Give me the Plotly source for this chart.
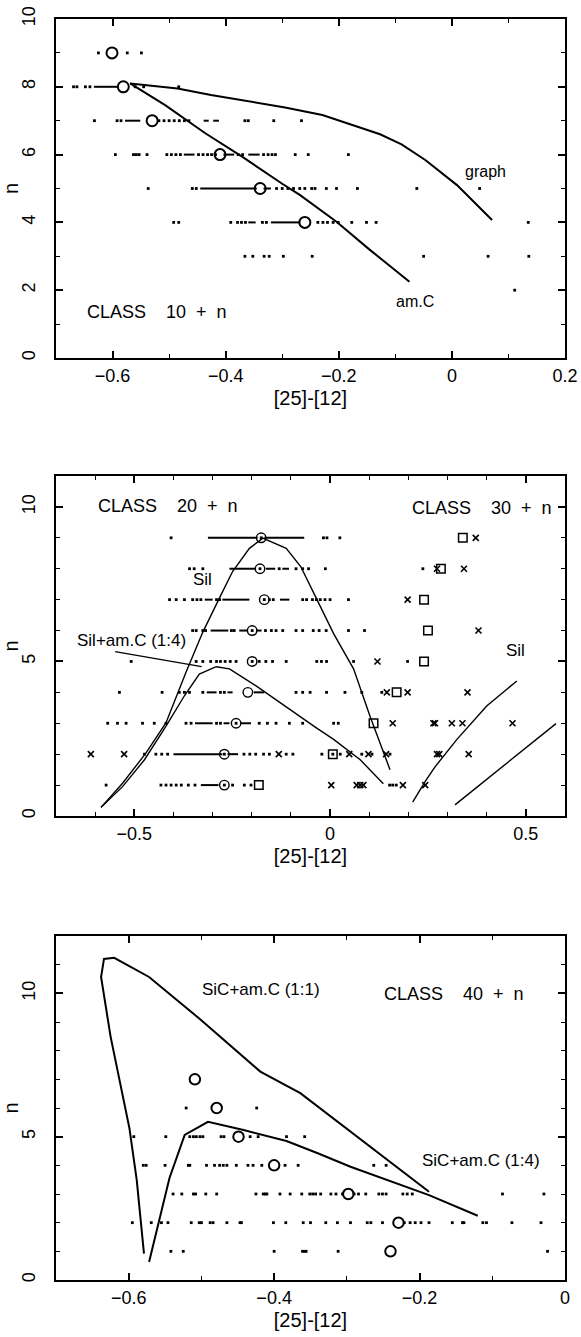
import plotly.graph_objects as go

# ---------------- Panel 1 (CLASS 10 + n) ----------------
p1_dot_x = [-0.625, -0.574, -0.549,
            -0.669, -0.663, -0.648, -0.640, -0.560, -0.545, -0.483,
            -0.632, -0.592, -0.585, -0.518, -0.509, -0.500, -0.491, -0.482, -0.473, -0.465,
            -0.366, -0.360, -0.315, -0.266,
            -0.595, -0.563, -0.558, -0.553, -0.539, -0.504, -0.496, -0.488, -0.480,
            -0.448, -0.440, -0.432, -0.425, -0.418, -0.378, -0.370, -0.333, -0.325, -0.318, -0.312,
            -0.277, -0.254, -0.183,
            -0.537, -0.459, -0.452, -0.310, -0.300, -0.290, -0.280, -0.269, -0.260, -0.248, -0.242,
            -0.222, -0.204, -0.167, -0.062, 0.049,
            -0.492, -0.483, -0.391, -0.379, -0.372, -0.365, -0.335, -0.328,
            -0.237, -0.228, -0.220, -0.210, -0.201, -0.177, -0.151, -0.134, 0.135,
            -0.366, -0.352, -0.332, -0.323, -0.298, -0.247, -0.050, 0.064, 0.136,
            0.111]
p1_dot_n = [9, 9, 9,
            8, 8, 8, 8, 8, 8, 8,
            7, 7, 7, 7, 7, 7, 7, 7, 7, 7,
            7, 7, 7, 7,
            6, 6, 6, 6, 6, 6, 6, 6, 6,
            6, 6, 6, 6, 6, 6, 6, 6, 6, 6, 6,
            6, 6, 6,
            5, 5, 5, 5, 5, 5, 5, 5, 5, 5, 5,
            5, 5, 5, 5, 5,
            4, 4, 4, 4, 4, 4, 4, 4,
            4, 4, 4, 4, 4, 4, 4, 4, 4,
            3, 3, 3, 3, 3, 3, 3, 3, 3,
            2]
# dense runs of points (start, end, row)
p1_run_x0 = [-0.633, -0.578, -0.439, -0.422, -0.474, -0.404, -0.360, -0.445, -0.333, -0.360, -0.320]
p1_run_x1 = [-0.589, -0.551, -0.430, -0.412, -0.455, -0.385, -0.340, -0.345, -0.320, -0.347, -0.268]
p1_run_n = [8, 7, 7, 7, 6, 6, 6, 5, 5, 4, 4]
p1_med_x = [-0.601, -0.581, -0.530, -0.410, -0.339, -0.260]
p1_med_n = [9, 8, 7, 6, 5, 4]
graph_x = [-0.569, -0.485, -0.426, -0.354, -0.295, -0.229, -0.171, -0.127, -0.089, -0.047, 0.009, 0.071]
graph_y = [8.10, 7.95, 7.76, 7.55, 7.39, 7.17, 6.85, 6.60, 6.30, 5.84, 5.10, 4.07]
amc_x = [-0.569, -0.507, -0.436, -0.371, -0.300, -0.269, -0.204, -0.145, -0.075]
amc_y = [8.10, 7.46, 6.63, 5.94, 5.14, 4.81, 4.02, 3.19, 2.25]

# ---------------- Panel 2 (CLASS 20 + n, CLASS 30 + n) ----------------
p2_dot_x = [-0.406, -0.017, -0.008, 0.025,
            -0.359, -0.347, -0.325, -0.130, -0.087, -0.070, -0.055, -0.012,
            -0.410, -0.393, -0.372, -0.351, -0.340, -0.330, -0.290, -0.282, -0.155, -0.145,
            -0.070, -0.060, -0.045, -0.035, -0.025, -0.013, 0.000, 0.047,
            -0.351, -0.342, -0.325, -0.318, -0.252, -0.245, -0.165, -0.150, -0.138, -0.121,
            -0.087, -0.070, -0.043, -0.028, -0.010, 0.047, 0.088,
            -0.508, -0.342, -0.325, -0.305, -0.290, -0.280, -0.268, -0.255, -0.240,
            -0.181, -0.164, -0.147, -0.112, -0.034, -0.022, -0.009, 0.060, 0.198,
            -0.538, -0.429, -0.385, -0.372, -0.359, -0.325, -0.280, -0.270,
            -0.087, -0.070, -0.051, -0.009, 0.038, 0.081, 0.132,
            -0.568, -0.543, -0.521, -0.479, -0.449, -0.419, -0.368, -0.355, -0.290, -0.280,
            -0.181, -0.160, -0.138, -0.104, -0.070, 0.009, 0.021,
            -0.474, -0.445, -0.430, -0.415, -0.220, -0.205, -0.190, -0.170, -0.155, -0.112, -0.095,
            -0.021, 0.026, 0.081, 0.107, 0.153,
            -0.572, -0.432, -0.419, -0.406, -0.393, -0.380, -0.362, -0.345, -0.249, -0.219, -0.202,
            0.152, 0.160, 0.169,
            0.237,
            -0.176, -0.179, -0.168, -0.199, -0.199, -0.240, -0.270, -0.270, 0.007]
p2_dot_n = [9, 9, 9, 9,
            8, 8, 8, 8, 8, 8, 8, 8,
            7, 7, 7, 7, 7, 7, 7, 7, 7, 7,
            7, 7, 7, 7, 7, 7, 7, 7,
            6, 6, 6, 6, 6, 6, 6, 6, 6, 6,
            6, 6, 6, 6, 6, 6, 6,
            5, 5, 5, 5, 5, 5, 5, 5, 5,
            5, 5, 5, 5, 5, 5, 5, 5, 5,
            4, 4, 4, 4, 4, 4, 4, 4,
            4, 4, 4, 4, 4, 4, 4,
            3, 3, 3, 3, 3, 3, 3, 3, 3, 3,
            3, 3, 3, 3, 3, 3, 3,
            2, 2, 2, 2, 2, 2, 2, 2, 2, 2, 2,
            2, 2, 2, 2, 2,
            1, 1, 1, 1, 1, 1, 1, 1, 1, 1, 1,
            1, 1, 1,
            8,
            9, 8, 7, 6, 5, 3, 2, 1, 2]
p2_run_x0 = [-0.312, -0.168, -0.257, -0.164, -0.122, -0.320, -0.275, -0.128,
             -0.305, -0.232, -0.189, -0.315, -0.262, -0.195, -0.345, -0.272, -0.228,
             -0.400, -0.262, -0.330]
p2_run_x1 = [-0.185, -0.066, -0.189, -0.140, -0.105, -0.300, -0.206, -0.104,
             -0.260, -0.210, -0.175, -0.290, -0.249, -0.168, -0.300, -0.257, -0.202,
             -0.275, -0.235, -0.285]
p2_run_n = [9, 9, 8, 8, 8, 7, 7, 7,
            6, 6, 6, 4, 4, 4, 3, 3, 3,
            2, 2, 1]
p2_med_x = [-0.176, -0.179, -0.168, -0.199, -0.199, -0.210, -0.240, -0.270, -0.270]
p2_med_n = [9, 8, 7, 6, 5, 4, 3, 2, 1]
p2_sq_x = [0.339, 0.283, 0.240, 0.250, 0.240, 0.170, 0.111, 0.007, -0.182]
p2_sq_n = [9, 8, 7, 6, 5, 4, 3, 2, 1]
p2_cross_x = [0.372,
              0.273, 0.342,
              0.198,
              0.379,
              0.121,
              0.145, 0.198, 0.351,
              0.160, 0.264, 0.268, 0.311, 0.338, 0.466,
              -0.611, -0.526, -0.131, 0.049, 0.098, 0.143, 0.273, 0.279, 0.354,
              0.003, 0.068, 0.077, 0.085, 0.186, 0.243]
p2_cross_n = [9,
              8, 8,
              7,
              6,
              5,
              4, 4, 4,
              3, 3, 3, 3, 3, 3,
              2, 2, 2, 2, 2, 2, 2, 2, 2,
              1, 1, 1, 1, 1, 1]
sil20_x = [-0.585, -0.530, -0.470, -0.419, -0.368, -0.325, -0.283, -0.249, -0.206, -0.172,
           -0.112, -0.075, -0.035, 0.009, 0.060, 0.102, 0.153]
sil20_y = [0.28, 1.06, 2.04, 3.02, 4.65, 5.95, 7.04, 7.91, 8.66, 8.99,
           8.66, 8.07, 7.04, 5.90, 4.76, 3.23, 1.50]
silamc_x = [-0.585, -0.530, -0.474, -0.419, -0.372, -0.334, -0.291, -0.257, -0.189, -0.104,
            -0.036, 0.009, 0.077, 0.136]
silamc_y = [0.28, 0.95, 1.82, 2.91, 3.89, 4.59, 4.83, 4.76, 4.21, 3.45,
            2.86, 2.48, 1.82, 1.04]
pointer_x = [-0.549, -0.328]
pointer_y = [5.32, 4.83]
sil30a_x = [0.211, 0.243, 0.268, 0.324, 0.400, 0.477]
sil30a_y = [0.45, 1.12, 1.59, 2.48, 3.56, 4.37]
sil30b_x = [0.319, 0.577]
sil30b_y = [0.36, 2.99]

# ---------------- Panel 3 (CLASS 40 + n) ----------------
p3_dot_x = [-0.521, -0.424,
            -0.593, -0.549, -0.516, -0.511, -0.507, -0.502, -0.498, -0.473, -0.469, -0.433, -0.422,
            -0.383, -0.358,
            -0.580, -0.576, -0.550, -0.518, -0.516, -0.493, -0.482, -0.475, -0.470, -0.465, -0.452,
            -0.436, -0.429, -0.417, -0.385, -0.367, -0.263, -0.246,
            -0.539, -0.527, -0.511, -0.508, -0.494, -0.479, -0.425, -0.415, -0.412, -0.410, -0.392,
            -0.378, -0.362, -0.351, -0.347, -0.343, -0.336, -0.322, -0.315, -0.306, -0.290, -0.284,
            -0.274, -0.256, -0.251, -0.246, -0.223, -0.217, -0.210, -0.086, -0.029,
            -0.595, -0.569, -0.555, -0.546, -0.514, -0.503, -0.500, -0.488, -0.484, -0.465, -0.447,
            -0.445, -0.401, -0.384, -0.360, -0.350, -0.329, -0.313, -0.295, -0.272, -0.267, -0.251,
            -0.221, -0.213, -0.206, -0.198, -0.187, -0.155, -0.141, -0.139, -0.113, -0.108, -0.073,
            -0.033,
            -0.542, -0.525, -0.400, -0.361, -0.358, -0.356, -0.312, -0.024]
p3_dot_n = [6, 6,
            5, 5, 5, 5, 5, 5, 5, 5, 5, 5, 5,
            5, 5,
            4, 4, 4, 4, 4, 4, 4, 4, 4, 4, 4,
            4, 4, 4, 4, 4, 4, 4,
            3, 3, 3, 3, 3, 3, 3, 3, 3, 3, 3,
            3, 3, 3, 3, 3, 3, 3, 3, 3, 3, 3,
            3, 3, 3, 3, 3, 3, 3, 3, 3,
            2, 2, 2, 2, 2, 2, 2, 2, 2, 2, 2,
            2, 2, 2, 2, 2, 2, 2, 2, 2, 2, 2,
            2, 2, 2, 2, 2, 2, 2, 2, 2, 2, 2,
            2,
            1, 1, 1, 1, 1, 1, 1, 1]
p3_med_x = [-0.509, -0.479, -0.449, -0.400, -0.298, -0.229, -0.240]
p3_med_n = [7, 6, 5, 4, 3, 2, 1]
sic11_x = [-0.579, -0.589, -0.599, -0.615, -0.625, -0.638, -0.634, -0.620, -0.572, -0.501,
           -0.419, -0.364, -0.281, -0.187]
sic11_y = [0.92, 3.49, 5.29, 7.33, 8.50, 10.57, 11.20, 11.24, 10.57, 9.08,
           7.27, 6.52, 4.90, 3.08]
sic14_x = [-0.572, -0.544, -0.523, -0.491, -0.442, -0.383, -0.340, -0.295, -0.187, -0.120]
sic14_y = [0.63, 3.55, 5.06, 5.52, 5.23, 4.85, 4.42, 3.95, 2.96, 2.24]

# ---------------- layout geometry (pixels) ----------------
W, H = 581, 1337
L, R, T, B = 56, 565, 19, 1280
panels_px = [(19, 358), (476, 816), (936, 1280)]
ph = B - T


def dom(top, bot):
    return [(B - bot) / ph, (B - top) / ph]


FONT = "Liberation Sans, Arial, Helvetica, sans-serif"
fig = go.Figure()


def runs(x0, x1, n):
    xs, ys = [], []
    for a, b, r in zip(x0, x1, n):
        xs += [a, b, None]
        ys += [r, r, None]
    return xs, ys


def add_dots(xs, ns, ax):
    fig.add_trace(go.Scatter(x=xs, y=ns, mode="markers", xaxis="x" + ax, yaxis="y" + ax,
                             marker=dict(symbol="square", size=2.8, color="black", line=dict(width=0)),
                             showlegend=False, hoverinfo="x+y"))


def add_runs(x0, x1, n, ax):
    xs, ys = runs(x0, x1, n)
    fig.add_trace(go.Scatter(x=xs, y=ys, mode="lines", xaxis="x" + ax, yaxis="y" + ax,
                             line=dict(color="black", width=2.0), showlegend=False, hoverinfo="skip"))


def add_line(xs, ys, ax, w):
    fig.add_trace(go.Scatter(x=xs, y=ys, mode="lines", xaxis="x" + ax, yaxis="y" + ax,
                             line=dict(color="black", width=w), showlegend=False))


def add_sym(xs, ns, ax, sym, size, w):
    fig.add_trace(go.Scatter(x=xs, y=ns, mode="markers", xaxis="x" + ax, yaxis="y" + ax,
                             marker=dict(symbol=sym, size=size, color="black",
                                         line=dict(color="black", width=w)),
                             showlegend=False))


# panel 1
add_dots(p1_dot_x, p1_dot_n, "")
add_runs(p1_run_x0, p1_run_x1, p1_run_n, "")
add_line(graph_x, graph_y, "", 2.0)
add_line(amc_x, amc_y, "", 2.0)
add_sym(p1_med_x, p1_med_n, "", "circle-open", 11, 2.0)

# panel 2
add_dots(p2_dot_x, p2_dot_n, "2")
add_runs(p2_run_x0, p2_run_x1, p2_run_n, "2")
add_line(sil20_x, sil20_y, "2", 1.4)
add_line(silamc_x, silamc_y, "2", 1.4)
add_line(pointer_x, pointer_y, "2", 1.2)
add_line(sil30a_x, sil30a_y, "2", 1.4)
add_line(sil30b_x, sil30b_y, "2", 1.4)
add_sym(p2_med_x, p2_med_n, "2", "circle-open", 9.5, 1.4)
add_sym(p2_sq_x, p2_sq_n, "2", "square-open", 8.5, 1.5)
add_sym(p2_cross_x, p2_cross_n, "2", "x-thin-open", 6, 1.6)

# panel 3
add_dots(p3_dot_x, p3_dot_n, "3")
add_line(sic11_x, sic11_y, "3", 2.0)
add_line(sic14_x, sic14_y, "3", 2.0)
add_sym(p3_med_x, p3_med_n, "3", "circle-open", 10.5, 2.0)

tickfont = dict(family=FONT, size=18, color="black")
titlefont = dict(family=FONT, size=20, color="black")


def xax(rng, dtick, minor, anchor):
    return dict(range=rng, dtick=dtick, tick0=0, showline=True, linewidth=2, linecolor="black",
                mirror="allticks", ticks="inside", ticklen=7, tickwidth=1.5, tickcolor="black",
                minor=dict(dtick=minor, tick0=0, ticks="inside", ticklen=4, tickwidth=1.3,
                           tickcolor="black"),
                showgrid=False, zeroline=False, tickfont=tickfont, anchor=anchor,
                automargin=False,
                title=dict(text="[25]-[12]", font=titlefont, standoff=6),
                domain=[0, 1])


def yax(rng, dtick, minor, dmn, anchor):
    return dict(range=rng, dtick=dtick, tick0=0, showline=True, linewidth=2, linecolor="black",
                mirror="allticks", ticks="inside", ticklen=7, tickwidth=1.5, tickcolor="black",
                minor=dict(dtick=minor, tick0=0, ticks="inside", ticklen=4, tickwidth=1.3,
                           tickcolor="black"),
                showgrid=False, zeroline=False, tickfont=tickfont, tickangle=-90, anchor=anchor,
                ticklabelstandoff=12, automargin=False,
                title=dict(text="n", font=titlefont, standoff=4),
                domain=dmn)


fig.update_layout(
    width=W, height=H,
    margin=dict(l=L, r=W - R, t=T, b=H - B, pad=0),
    paper_bgcolor="white", plot_bgcolor="white",
    font=dict(family=FONT, color="black"),
    xaxis=xax([-0.7, 0.2], 0.2, 0.1, "y"),
    yaxis=yax([0, 10], 2, 1, dom(*panels_px[0]), "x"),
    xaxis2=xax([-0.7, 0.6], 0.5, 0.1, "y2"),
    yaxis2=yax([0, 11], 5, 1, dom(*panels_px[1]), "x2"),
    xaxis3=xax([-0.7, 0.0], 0.2, 0.1, "y3"),
    yaxis3=yax([0, 12], 5, 1, dom(*panels_px[2]), "x3"),
)

lab_font = dict(family=FONT, size=16, color="black")
lab2_font = dict(family=FONT, size=17, color="black")
cls_font = dict(family=FONT, size=18, color="black")
sp4 = "\u00a0\u00a0\u00a0\u00a0"
sp2 = "\u00a0\u00a0"


def cls(num):
    return "CLASS" + sp4 + num + sp2 + "+" + sp2 + "n"


ann = [
    ("x", "y", -0.648, 1.37, cls("10"), "left", cls_font),
    ("x", "y", 0.059, 5.50, "graph", "center", lab_font),
    ("x", "y", -0.065, 1.66, "am.C", "center", lab_font),
    ("x2", "y2", -0.598, 10.02, cls("20"), "left", cls_font),
    ("x2", "y2", 0.204, 9.97, cls("30"), "left", cls_font),
    ("x2", "y2", -0.325, 7.65, "Sil", "center", lab2_font),
    ("x2", "y2", -0.508, 5.68, "Sil+am.C (1:4)", "center", lab2_font),
    ("x2", "y2", 0.473, 5.35, "Sil", "center", lab2_font),
    ("x3", "y3", -0.418, 10.13, "SiC+am.C (1:1)", "center", lab2_font),
    ("x3", "y3", -0.252, 9.99, cls("40"), "left", cls_font),
    ("x3", "y3", -0.116, 4.16, "SiC+am.C (1:4)", "center", lab2_font),
]
for xr, yr, x, y, t, anc, f in ann:
    fig.add_annotation(xref=xr, yref=yr, x=x, y=y, text=t, showarrow=False,
                       xanchor=anc, yanchor="middle", font=f)

fig.write_html("out.html", config={"displayModeBar": False},
               post_script="document.body.style.margin='0';document.body.style.overflow='hidden';")
